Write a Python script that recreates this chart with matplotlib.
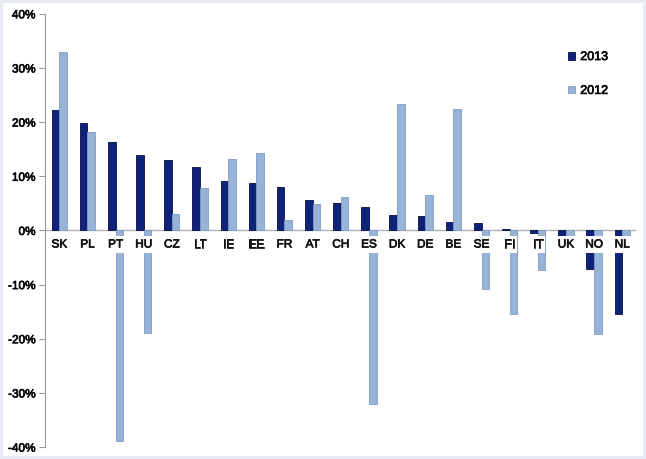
import numpy as np
import matplotlib.pyplot as plt
import matplotlib.patheffects as pe
from matplotlib.ticker import FuncFormatter

# country codes and yearly change (in %)
countries = ['SK', 'PL', 'PT', 'HU', 'CZ', 'LT', 'IE', 'EE', 'FR', 'AT', 'CH',
             'ES', 'DK', 'DE', 'BE', 'SE', 'FI', 'IT', 'UK', 'NO', 'NL']
vals_2013 = [22.2, 19.8, 16.3, 13.9, 13.0, 11.7, 9.1, 8.7, 8.1, 5.6, 5.1,
             4.4, 2.8, 2.6, 1.6, 1.4, 0.3, -0.5, -1.5, -7.1, -15.4]
vals_2012 = [33.0, 18.1, -38.9, -18.9, 3.1, 7.9, 13.1, 14.3, 1.9, 4.8, 6.2,
             -32.0, 23.4, 6.6, 22.4, -10.9, -15.5, -7.3, -1.5, -19.2, -1.5]
yticks = [-40, -30, -20, -10, 0, 10, 20, 30, 40]

dark = '#10237a'
light = '#97b3d8'

plt.rcParams['font.family'] = ['Liberation Sans', 'DejaVu Sans']
thick = [pe.withStroke(linewidth=0.5, foreground='#111111')]

fig = plt.figure(figsize=(6.46, 4.59), dpi=100)
ax = fig.add_axes([0.070, 0.026, 0.915, 0.944])

x = np.arange(len(countries))
w = 0.27
ax.bar(x - w / 2, vals_2013, w, color=dark, edgecolor='#06103f', linewidth=0.6,
       label='2013', zorder=2)
ax.bar(x + w / 2, vals_2012, w, color=light, edgecolor='#7f9cc4', linewidth=0.6,
       label='2012', zorder=2)

ax.axhline(0, color='#b0b0b0', linewidth=1, zorder=1)

# category labels sit just under the zero line, on a white patch
for xi, c in zip(x, countries):
    ax.text(xi, -2.6, c, ha='center', va='center', fontsize=8.5,
            color='#111111', zorder=3, path_effects=thick,
            bbox=dict(boxstyle='square,pad=0.2', fc='white', ec='none'))

ax.set_xlim(-0.5, len(countries) - 0.5)
ax.set_ylim(-40, 40)
ax.set_yticks(yticks)
ax.yaxis.set_major_formatter(FuncFormatter(lambda v, p: f'{v:.0f}%'))
ax.tick_params(axis='y', labelsize=8.5, length=4, color='#999999', pad=3)
for t in ax.get_yticklabels():
    t.set_path_effects(thick)
ax.set_xticks([])
for s in ['top', 'right', 'bottom']:
    ax.spines[s].set_visible(False)
ax.spines['left'].set_color('#999999')

leg = ax.legend(loc='upper left', bbox_to_anchor=(0.865, 0.94), frameon=False,
                fontsize=9, labelspacing=1.75, handlelength=0.6,
                handleheight=0.6, handletextpad=0.4)
for t in leg.get_texts():
    t.set_path_effects(thick)

fig.patch.set_edgecolor('#e6eaf5')
fig.patch.set_linewidth(4)

plt.savefig('out.png', dpi=100, edgecolor=fig.get_edgecolor())
